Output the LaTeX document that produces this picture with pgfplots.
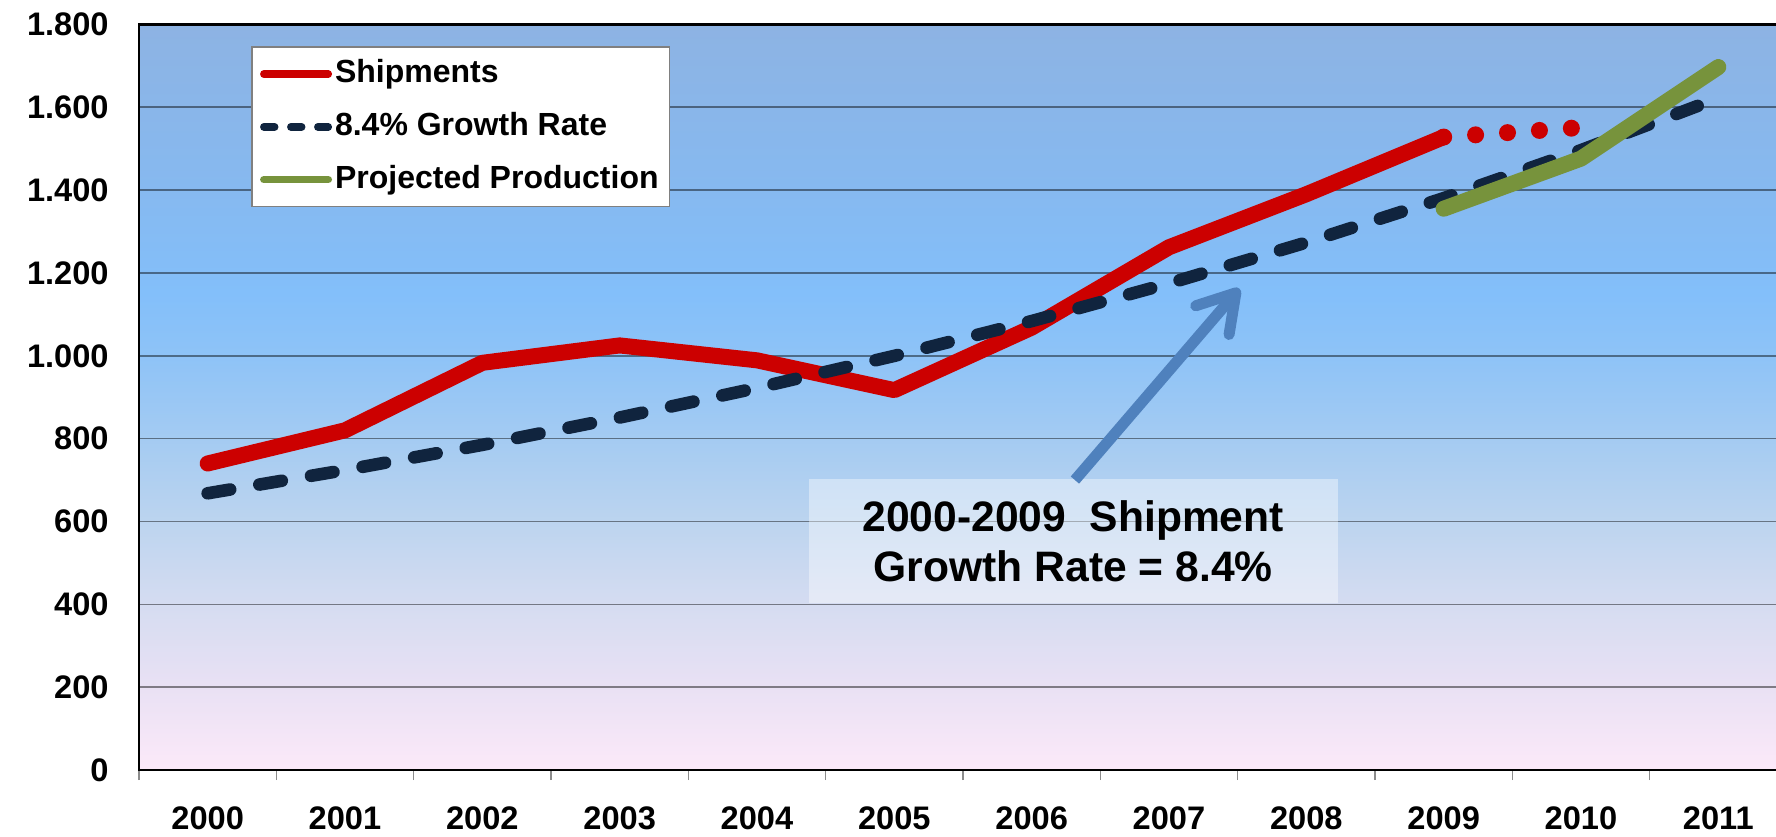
\documentclass[border=0pt]{standalone}
\usepackage{fontspec}
\setmainfont{Liberation Sans}
\usepackage{pgfplots}
\pgfplotsset{compat=1.18}
\usetikzlibrary{arrows.meta}

\definecolor{shipred}{RGB}{204,0,0}
\definecolor{growthnavy}{RGB}{16,36,62}
\definecolor{projgreen}{RGB}{119,147,60}
\definecolor{arrowblue}{RGB}{79,129,189}
% background, bottom to top
\definecolor{bga}{HTML}{FCE9F9}
\definecolor{bgb}{HTML}{E9E1F4}
\definecolor{bgc}{HTML}{D5DCF1}
\definecolor{bgd}{HTML}{BCD4EF}
\definecolor{bge}{HTML}{A4CBF2}
\definecolor{bgf}{HTML}{8EC3F7}
\definecolor{bgg}{HTML}{83BFFA}
\definecolor{bgh}{HTML}{86B9F0}
\definecolor{bgi}{HTML}{8DB3E3}
\pgfdeclareverticalshading{plotbg}{100bp}{color(0bp)=(bga); color(25bp)=(bga);
  color(30.56bp)=(bgb); color(36.11bp)=(bgc); color(41.67bp)=(bgd);
  color(47.22bp)=(bge); color(52.78bp)=(bgf); color(56.94bp)=(bgg);
  color(63.89bp)=(bgh); color(75bp)=(bgi); color(100bp)=(bgi)}

\begin{document}
\begin{tikzpicture}
\useasboundingbox (-69.5pt,-33pt) rectangle (818.5pt,385pt);
\begin{axis}[
  name=ax,
  at={(0,0)}, anchor=south west,
  scale only axis,
  width=818.5pt, height=372.8pt,
  xmin=-0.5, xmax=11.42,
  ymin=0, ymax=1800,
  axis line style={draw=none},
  axis background/.style={shading=plotbg},
  xtick={0,...,11},
  xticklabels={2000,2001,2002,2003,2004,2005,2006,2007,2008,2009,2010,2011},
  minor xtick={-0.5,0.5,1.5,2.5,3.5,4.5,5.5,6.5,7.5,8.5,9.5,10.5},
  ytick={0,200,...,1800},
  yticklabels={0,200,400,600,800,1.000,1.200,1.400,1.600,1.800},
  tick pos=left,
  tick align=outside,
  major tick length=0pt,
  minor tick length=5pt,
  every minor tick/.append style={black!45, line width=0.6pt},
  ymajorgrids,
  y grid style={black, opacity=0.45, line width=0.75pt},
  ticklabel style={font=\bfseries\fontsize{16.3}{19}\selectfont, inner sep=0pt},
  xticklabel style={anchor=north, yshift=-18.3pt},
  yticklabel style={anchor=east, xshift=-15pt},
  legend cell align=left,
  legend style={
    at={(0.0687,0.9705)}, anchor=north west,
    draw=black!50, line width=0.6pt, fill=white,
    font=\bfseries\fontsize{16}{19}\selectfont,
    inner xsep=4pt, inner ysep=6pt, row sep=11.3pt,
    nodes={text height=11.8pt, text depth=3.3pt, inner ysep=0pt, inner xsep=1.5pt},
  },
]
\addplot[shipred, line width=8pt, line cap=round, line join=round,
  legend image code/.code={\draw[shipred, line width=3.8pt, line cap=round] (1.9pt,0pt) -- (34.1pt,0pt);}]
  coordinates {(0,740) (1,820) (2,983) (3,1025) (4,989) (5,917) (6,1068) (7,1262) (8,1390) (9,1528)};
\addlegendentry{Shipments}
\addplot[shipred, line width=8.5pt, line cap=round, dash pattern=on 0pt off 16pt, forget plot]
  coordinates {(9,1528) (10,1551)};
\addplot[growthnavy, line width=6.3pt, line cap=round, line join=round, dash pattern=on 11.4pt off 14.8pt,
  legend image code/.code={\draw[growthnavy, line width=3.8pt, line cap=round, dash pattern=on 5.4pt off 8.1pt] (1.9pt,0pt) -- (34.1pt,0pt);}]
  coordinates {(0,668) (1,724.1) (2,784.9) (3,850.9) (4,922.3) (5,999.8) (6,1083.8) (7,1174.8) (8,1273.5) (9,1380.5) (10,1496.4) (11,1622.1)};
\addlegendentry{8.4\% Growth Rate}
\addplot[projgreen, line width=8pt, line cap=round, line join=round,
  legend image code/.code={\draw[projgreen, line width=3.8pt, line cap=round] (1.9pt,0pt) -- (34.1pt,0pt);}]
  coordinates {(9,1355) (10,1476) (11,1697)};
\addlegendentry{Projected Production}

% annotation
\fill[white, fill opacity=0.4] (axis cs:4.378,403) rectangle (axis cs:8.230,702);
\node[anchor=base, font=\bfseries\fontsize{21.3}{25}\selectfont, inner sep=0pt] at (axis cs:6.3025,576) {2000-2009\ \ Shipment};
\node[anchor=base, font=\bfseries\fontsize{21.3}{25}\selectfont, inner sep=0pt] at (axis cs:6.3025,455) {Growth Rate = 8.4\%};
\draw[arrowblue, line width=5.5pt, -{Straight Barb[length=18pt,width=22pt,round]}] (axis cs:6.315,700) -- (axis cs:7.513,1162);
\end{axis}
\draw[line width=1.3pt] (ax.north east) -- (ax.north west) -- (ax.south west) -- (ax.south east);
\end{tikzpicture}
\end{document}
